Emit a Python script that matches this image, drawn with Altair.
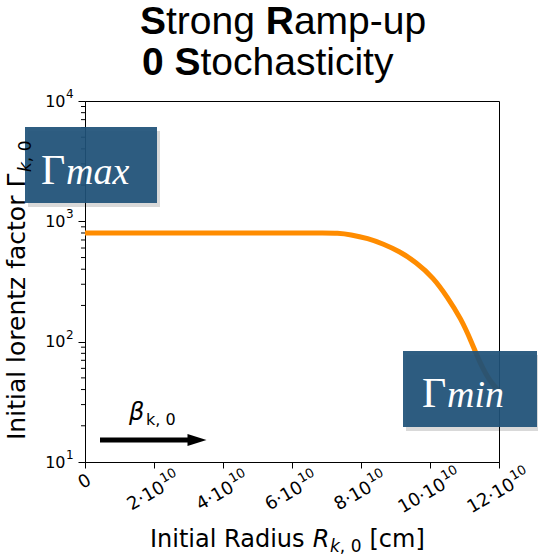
import altair as alt
import pandas as pd

# ---------------- data ----------------
radius_e10 = [0, 1, 2, 3, 4, 5, 6, 7.0, 7.3, 7.7, 8.2, 8.65, 9.1, 9.6, 10.1, 10.5, 10.9, 11.2, 11.45, 11.75, 12]
gamma_vals = [800, 800, 800, 800, 800, 800, 800, 800, 799, 777, 722, 648, 565, 458, 340, 236, 155, 100, 66, 46, 39]

x_ticks = [0, 2, 4, 6, 8, 10, 12]
x_tick_prefix = ["0", "2·10", "4·10", "6·10", "8·10", "10·10", "12·10"]
x_tick_sup = ["", "10", "10", "10", "10", "10", "10"]
y_ticks = [10, 100, 1000, 10000]
y_tick_base = ["10", "10", "10", "10"]
y_tick_sup = ["1", "2", "3", "4"]
y_minor = [20, 30, 40, 50, 60, 70, 80, 90, 200, 300, 400, 500, 600, 700, 800, 900,
           2000, 3000, 4000, 5000, 6000, 7000, 8000, 9000]

W, H = 414, 361
PAD = {"left": 85, "top": 101, "right": 39, "bottom": 93}

df = pd.DataFrame({"r": radius_e10, "g": gamma_vals})

xscale = alt.Scale(domain=[0, 12], nice=False, zero=False)
yscale = alt.Scale(type="log", domain=[10, 10000], nice=False)

# DejaVu Sans advance widths (em)
DJ = {"0": 0.636, "1": 0.636, "2": 0.636, "4": 0.636, "6": 0.636, "8": 0.636, "·": 0.318}


def tw(s, size):
    return sum(DJ.get(c, 0.6) for c in s) * size


line = alt.Chart(df).mark_line(color="#ff8c00", strokeWidth=5, interpolate="basis", clip=True).encode(
    x=alt.X("r:Q", scale=xscale, axis=alt.Axis(
        values=x_ticks, labels=False, title=None, tickSize=6, grid=False,
        domainColor="black", tickColor="black")),
    y=alt.Y("g:Q", scale=yscale, axis=alt.Axis(
        values=y_ticks, labelExpr="'10'", title=None,
        tickSize=7, labelFontSize=16, labelFont="DejaVu Sans", labelPadding=13, grid=False,
        domainColor="black", tickColor="black", labelColor="black")),
)

minor = alt.Chart(pd.DataFrame({"m": y_minor})).mark_rule(color="black", strokeWidth=1).encode(
    y=alt.Y("m:Q", scale=yscale),
    x=alt.value(-4), x2=alt.value(0),
)

layers = [line, minor]

# y tick superscripts
ysup = alt.Chart(pd.DataFrame({"v": y_ticks, "s": y_tick_sup})).mark_text(
    fontSize=12, font="DejaVu Sans", align="left", baseline="middle", dy=-7, color="black", clip=False
).encode(y=alt.Y("v:Q", scale=yscale), x=alt.value(-19), text="s:N")
layers.append(ysup)

# x tick labels (rotated, base + superscript), grouped by prefix width
XB, XS, GAP, RISE = 18, 13, 1, 7
LAB_Y = 391
zero_df = pd.DataFrame({"v": [x_ticks[0]], "t": [x_tick_prefix[0]]})
layers.append(alt.Chart(zero_df).mark_text(
    fontSize=XB, font="DejaVu Sans", align="center", baseline="middle", angle=330, color="black", clip=False
).encode(x=alt.X("v:Q", scale=xscale), y=alt.value(381), text="t:N"))

groups = {}
for v, p, s in zip(x_ticks[1:], x_tick_prefix[1:], x_tick_sup[1:]):
    groups.setdefault(len(p), []).append((v, p, s))
for n, items in groups.items():
    wb = tw(items[0][1], XB)
    ws = tw(items[0][2], XS)
    w = wb + GAP + ws
    gdf = pd.DataFrame({"v": [i[0] for i in items], "p": [i[1] for i in items], "s": [i[2] for i in items]})
    layers.append(alt.Chart(gdf).mark_text(
        fontSize=XB, font="DejaVu Sans", align="left", baseline="middle", angle=330,
        dx=-w / 2, color="black", clip=False
    ).encode(x=alt.X("v:Q", scale=xscale), y=alt.value(LAB_Y), text="p:N"))
    layers.append(alt.Chart(gdf).mark_text(
        fontSize=XS, font="DejaVu Sans", align="left", baseline="middle", angle=330,
        dx=-w / 2 + wb + GAP, dy=-RISE, color="black", clip=False
    ).encode(x=alt.X("v:Q", scale=xscale), y=alt.value(LAB_Y), text="s:N"))


def txt(x, y, s, size, font="DejaVu Sans", weight="normal", style="normal",
        angle=0, align="left", baseline="alphabetic", color="black"):
    return alt.Chart(pd.DataFrame({"t": [s]})).mark_text(
        fontSize=size, font=font, fontWeight=weight, fontStyle=style, angle=angle,
        align=align, baseline=baseline, color=color, clip=False
    ).encode(x=alt.value(x), y=alt.value(y), text="t:N")


def box(x1, y1, x2, y2):
    shadow = alt.Chart(pd.DataFrame({"a": [0]})).mark_rect(color="black", opacity=0.15, clip=False).encode(
        x=alt.value(x1 + 3), x2=alt.value(x2 + 3), y=alt.value(y1 + 4), y2=alt.value(y2 + 4))
    rect = alt.Chart(pd.DataFrame({"a": [0]})).mark_rect(color="#1f5279", opacity=0.93, clip=False).encode(
        x=alt.value(x1), x2=alt.value(x2), y=alt.value(y1), y2=alt.value(y2))
    return [shadow, rect]


# Gamma_max box
layers += box(-60, 26, 72, 102)
layers += [txt(-44, 83, "Γ", 42, font="Liberation Serif", color="white"),
           txt(-19, 83, "max", 38, font="Liberation Serif", style="italic", color="white")]
# Gamma_min box
layers += box(318, 250, 452, 326)
layers += [txt(337, 306, "Γ", 42, font="Liberation Serif", color="white"),
           txt(362, 306, "min", 38, font="Liberation Serif", style="italic", color="white")]

# beta arrow
arrow_shaft = alt.Chart(pd.DataFrame({"a": [0]})).mark_rule(color="black", strokeWidth=5, clip=False).encode(
    x=alt.value(15), x2=alt.value(104), y=alt.value(339))
arrow_head = alt.Chart(pd.DataFrame({"a": [0]})).mark_point(
    shape="M-1,-0.63L1,0L-1,0.63Z", filled=True, color="black", opacity=1, size=361, clip=False
).encode(x=alt.value(112), y=alt.value(339))
layers += [arrow_shaft, arrow_head,
           txt(44, 319, "β", 24, style="italic"),
           txt(61, 324, "k, 0", 16)]

# x-axis title
XT = 24
SUB = 17
xs = 150 - 85
r_x = xs + 6.78 * XT
k_x = r_x + 0.72 * XT
c_x = k_x + 0.58 * SUB
cm_x = k_x + 1.87 * SUB + 0.32 * XT
layers += [txt(xs, 446, "Initial Radius", XT),
           txt(r_x, 446, "R", XT, style="italic"),
           txt(k_x, 451, "k", SUB, style="italic"),
           txt(c_x, 451, ", 0", SUB),
           txt(cm_x, 446, "[cm]", XT)]

# y-axis title (rotated)
YT = 25
ys = 440 - 101
yb = -60
layers += [txt(yb, ys, "Initial lorentz factor Γ", YT, angle=270),
           txt(yb + 6, ys - 10.72 * YT, "k", SUB, style="italic", angle=270),
           txt(yb + 6, ys - 10.72 * YT - 0.58 * SUB, ", 0", SUB, angle=270)]

# title with bold initials (Arial metrics)
TF = 39
l1x = 140 - 85
l1y = 34 - 101
layers += [txt(l1x, l1y, "S", TF, font="Liberation Sans", weight="bold"),
           txt(l1x + 0.667 * TF, l1y, "trong", TF, font="Liberation Sans"),
           txt(l1x + (0.667 + 2.279 + 0.278) * TF, l1y, "R", TF, font="Liberation Sans", weight="bold"),
           txt(l1x + (0.667 + 2.279 + 0.278 + 0.722) * TF, l1y, "amp-up", TF, font="Liberation Sans")]
l2x = 142 - 85
l2y = 75 - 101
layers += [txt(l2x, l2y, "0 S", TF, font="Liberation Sans", weight="bold"),
           txt(l2x + (0.556 + 0.278 + 0.667) * TF, l2y, "tochasticity", TF, font="Liberation Sans")]

chart = alt.layer(*layers).properties(
    width=W, height=H, autosize=alt.AutoSizeParams(type="none"), padding=PAD,
    background="white"
).configure_view(stroke="black", strokeWidth=1)

chart.save("out.html", embed_options={"renderer": "svg", "actions": False})
